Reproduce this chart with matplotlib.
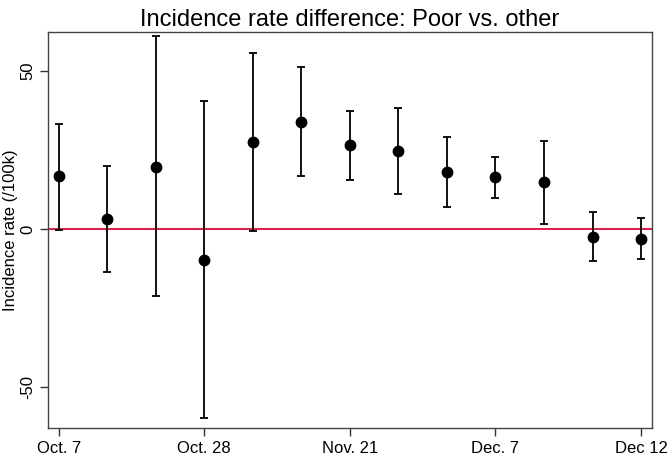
"""
Incidence rate difference between poor and other areas, with 95% intervals.
"""

from matplotlib import pyplot

# Estimates and interval bounds, one per reporting week.
week_index = list(range(13))
rate_diff = [16.6, 3.2, 19.7, -9.7, 27.4, 33.9, 26.4, 24.5, 18.0, 16.5, 14.8, -2.6, -3.2]
ci_low = [-0.2, -13.6, -21.2, -59.7, -0.6, 16.6, 15.6, 10.9, 6.9, 9.9, 1.6, -10.3, -9.6]
ci_high = [33.2, 20.0, 60.9, 40.5, 55.7, 51.2, 37.3, 38.1, 29.1, 22.9, 27.9, 5.2, 3.4]

tick_index = [0, 3, 6, 9, 12]
tick_labels = ['Oct. 7', 'Oct. 28', 'Nov. 21', 'Dec. 7', 'Dec 12']

pyplot.rcParams['font.family'] = ['Liberation Sans Narrow', 'Liberation Sans', 'DejaVu Sans']

fig = pyplot.figure(figsize=(6.7, 4.55), dpi=100)
ax = fig.add_axes([0.0716, 0.0593, 0.9011, 0.8704])

yerr = [[m - lo for m, lo in zip(rate_diff, ci_low)],
        [hi - m for m, hi in zip(rate_diff, ci_high)]]
ax.axhline(0, color='#d8244f', linewidth=1.5, zorder=1)
ax.errorbar(week_index, rate_diff, yerr=yerr, fmt='o', color='black',
            markersize=7.5, elinewidth=1.3, capsize=3.0, capthick=1.3, zorder=3)

ax.set_xlim(-0.22, 12.22)
ax.set_ylim(-63, 62.3)
ax.set_xticks(tick_index)
ax.set_xticklabels(tick_labels, fontsize=12)
ax.set_yticks([-50, 0, 50])
ax.set_yticklabels(['-50', '0', '50'], fontsize=12, rotation=90, va='center')
ax.tick_params(direction='out', length=6, width=1, color='#333333')
ax.tick_params(axis='y', pad=3)
ax.set_ylabel('Incidence rate (/100k)', fontsize=12)
ax.yaxis.set_label_coords(-0.049, 0.5)
ax.set_title('Incidence rate difference: Poor vs. other', fontsize=17, pad=4)
for spine in ax.spines.values():
    spine.set_color('#444444')
    spine.set_linewidth(1.0)

fig.savefig('out.png', dpi=100)
